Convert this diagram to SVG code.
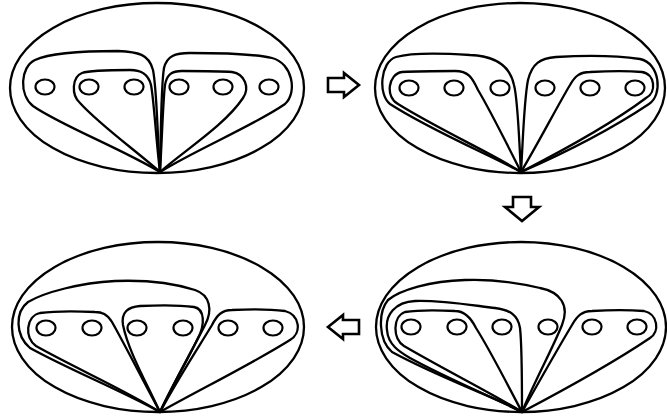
<svg xmlns="http://www.w3.org/2000/svg" width="667" height="420" viewBox="0 0 667 420">
<style>
.e{fill:none;stroke:#000;stroke-width:2.3}
.l{fill:none;stroke:#000;stroke-width:2.3;stroke-linejoin:round}
.c{fill:none;stroke:#000;stroke-width:2.2}
.a{fill:#fff;stroke:#000;stroke-width:2.6;stroke-linejoin:miter}
</style>
<rect width="667" height="420" fill="#fff"/>
<g id="panel1">
<ellipse class="e" cx="157" cy="88" rx="147" ry="85"/>
<g class="c"><ellipse cx="45" cy="87" rx="9.5" ry="7.5"/><ellipse cx="89" cy="87" rx="9.5" ry="7.5"/><ellipse cx="134" cy="87" rx="9.5" ry="7.5"/><ellipse cx="179" cy="87" rx="9.5" ry="7.5"/><ellipse cx="223" cy="87" rx="9.5" ry="7.5"/><ellipse cx="269" cy="87" rx="9.5" ry="7.5"/></g>
<path class="l" d="M160,172 C157,130 157,90 153,70 C149,54 138,52 118,51 C85,51 50,53 35,60 C20,67 19,95 33,106 C60,125 120,148 160,172 Z"/>
<path class="l" d="M160,172 C156,140 154,100 151,85 C148,73 140,70 130,70 C110,70 90,70 82,73 C72,77 71,95 80,103 C100,125 135,150 160,172 Z"/>
<path class="l" d="M160,172 C162,140 163,100 165,85 C167,74 172,71 182,71 C200,71 220,71 232,72 C245,74 250,88 243,98 C225,125 185,150 160,172 Z"/>
<path class="l" d="M160,172 C161,130 161,85 164,68 C167,56 175,53 190,53 C220,53 255,54 272,58 C292,63 298,92 285,104 C255,125 195,150 160,172 Z"/>
</g>
<g id="panel2">
<ellipse class="e" cx="520" cy="88" rx="145" ry="85"/>
<g class="c"><ellipse cx="409" cy="88" rx="9.5" ry="7.5"/><ellipse cx="454" cy="88" rx="9.5" ry="7.5"/><ellipse cx="500" cy="88" rx="9.5" ry="7.5"/><ellipse cx="545" cy="88" rx="9.5" ry="7.5"/><ellipse cx="590" cy="88" rx="9.5" ry="7.5"/><ellipse cx="635" cy="88" rx="9.5" ry="7.5"/></g>
<path class="l" d="M521,172 C519,140 518,100 514,85 C510,65 495,56 470,55 C440,53 410,53 396,57 C380,62 378,95 390,104 C430,130 490,155 521,172 Z"/>
<path class="l" d="M521,172 C505,140 490,110 478,90 C472,77 468,71 455,71 C440,71 420,71 402,72 C388,74 385,97 398,104 C440,130 495,155 521,172 Z"/>
<path class="l" d="M521,172 C523,140 524,100 528,80 C532,64 540,58 556,57 C590,55 620,56 640,59 C660,63 663,95 649,104 C610,130 560,155 521,172 Z"/>
<path class="l" d="M521,172 C540,140 558,105 570,85 C575,76 580,72 590,72 C610,71 630,71 642,72 C655,74 657,92 646,98 C610,125 560,152 521,172 Z"/>
</g>
<g id="panel3">
<ellipse class="e" cx="158" cy="327" rx="146" ry="85"/>
<g class="c"><ellipse cx="46" cy="328" rx="9.5" ry="7.5"/><ellipse cx="92" cy="328" rx="9.5" ry="7.5"/><ellipse cx="137" cy="328" rx="9.5" ry="7.5"/><ellipse cx="183" cy="328" rx="9.5" ry="7.5"/><ellipse cx="228" cy="328" rx="9.5" ry="7.5"/><ellipse cx="273" cy="328" rx="9.5" ry="7.5"/></g>
<path class="l" d="M160,412 C175,380 195,345 205,325 C213,310 210,295 195,290 C170,282 140,280 115,281 C80,283 45,292 28,302 C15,312 15,335 30,348 C70,370 120,390 160,412 Z"/>
<path class="l" d="M160,412 C140,375 125,345 112,322 C107,314 102,312 95,312 C75,311 55,311 40,313 C26,316 24,338 36,346 C75,368 125,390 160,412 Z"/>
<path class="l" d="M160,412 C145,380 128,350 123,325 C121,312 128,307 140,306 C160,305 180,305 194,307 C205,309 205,325 198,338 C185,365 170,390 160,412 Z"/>
<path class="l" d="M160,412 C180,375 200,345 212,325 C217,315 222,310 232,310 C250,309 270,309 285,311 C300,315 302,333 290,340 C250,365 195,392 160,412 Z"/>
</g>
<g id="panel4">
<ellipse class="e" cx="521" cy="327" rx="145" ry="85"/>
<g class="c"><ellipse cx="411" cy="327" rx="9.5" ry="7.5"/><ellipse cx="457" cy="327" rx="9.5" ry="7.5"/><ellipse cx="502" cy="327" rx="9.5" ry="7.5"/><ellipse cx="548" cy="327" rx="9.5" ry="7.5"/><ellipse cx="592" cy="327" rx="9.5" ry="7.5"/><ellipse cx="637" cy="327" rx="9.5" ry="7.5"/></g>
<path class="l" d="M522,412 C535,380 552,350 562,325 C570,305 560,292 540,288 C515,282 490,279 465,280 C430,281 400,290 388,300 C378,312 378,340 392,352 C440,378 490,395 522,412 Z"/>
<path class="l" d="M522,412 C522,380 522,345 520,328 C518,315 510,310 495,308 C470,305 440,300 415,301 C395,302 385,315 387,330 C388,345 400,352 410,358 C450,380 495,398 522,412 Z"/>
<path class="l" d="M522,412 C505,380 490,350 476,328 C470,316 463,311 455,311 C435,310 418,310 405,312 C393,316 392,338 404,346 C445,370 495,395 522,412 Z"/>
<path class="l" d="M522,412 C540,380 560,345 572,325 C577,316 582,311 592,311 C610,310 630,310 644,311 C658,314 660,332 650,338 C610,365 560,392 522,412 Z"/>
</g>
<g id="connectors">
<path class="a" d="M328,78 H344 V73 L359,85 L344,97 V92 H328 Z"/>
<path class="a" d="M513,197 H531 V207 H539 L522,221 L505,207 H513 Z"/>
<path class="a" d="M359,320 H343 V315 L328,327 L343,339 V334 H359 Z"/>
</g>
</svg>
